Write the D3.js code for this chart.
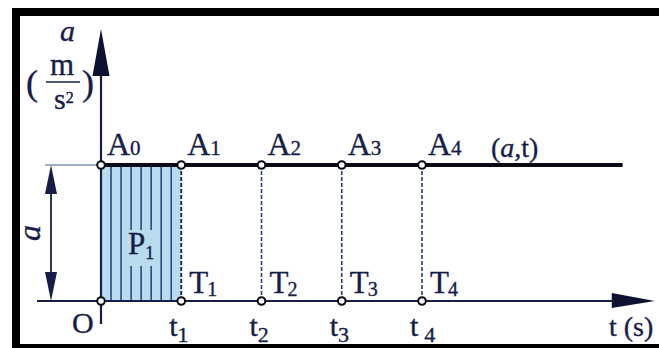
<!DOCTYPE html>
<html>
<head>
<meta charset="utf-8">
<script src="https://cdn.jsdelivr.net/npm/d3@7"></script>
<style>
  html, body { margin: 0; padding: 0; background: #fff; }
  svg { display: block; }
  text { font-family: "Liberation Serif", "DejaVu Serif", serif; fill: #161d48; stroke: #161d48; stroke-width: 0.35px; }
</style>
</head>
<body>
<svg id="chart" width="659" height="348"></svg>
<script>
// Constant acceleration a over time: a horizontal (a,t) line
const accel = 1;                      // a, in m/s²
const times = [0, 1, 2, 3, 4];        // t0 … t4
const pointLetters = ["A", "A", "A", "A", "A"];
const pointSubs = ["0", "1", "2", "3", "4"];
const footLetters = ["T", "T", "T", "T"];
const footSubs = ["1", "2", "3", "4"];
const tickLetters = ["t", "t", "t", "t"];
const tickSubs = ["1", "2", "3", "4"];
const lineEndT = 6.5;                 // where the (a,t) line stops
const axisEndT = 6.9;                 // tip of the time axis
const axisTopA = 2.0;                 // tip of the acceleration axis

const ink = "#161d48";
const svg = d3.select("#chart");

const x = d3.scaleLinear().domain([0, 4]).range([101, 422]);
const y = d3.scaleLinear().domain([0, 1]).range([301, 165]);

// frame
svg.append("rect").attr("x", 12).attr("y", 8).attr("width", 659).attr("height", 8).attr("fill", "#000");
svg.append("rect").attr("x", 12).attr("y", 8).attr("width", 8).attr("height", 340).attr("fill", "#000");
svg.append("rect").attr("x", 12).attr("y", 344).attr("width", 659).attr("height", 4).attr("fill", "#000");

// shaded area P1 under the line between t0 and t1
const fill = "#b9dbee";
svg.append("rect")
  .attr("x", x(times[0])).attr("y", y(accel))
  .attr("width", x(times[1]) - x(times[0]))
  .attr("height", y(0) - y(accel))
  .attr("fill", fill);
const hatch = d3.range(1, 8).map(i => times[0] + i * (times[1] - times[0]) / 8);
svg.append("g").selectAll("line").data(hatch).join("line")
  .attr("x1", d => x(d)).attr("x2", d => x(d))
  .attr("y1", y(accel)).attr("y2", y(0))
  .attr("stroke", "#1f3f78").attr("stroke-width", 1.5);
// gap in the hatching behind the P1 label
svg.append("rect").attr("x", 127).attr("y", 230).attr("width", 30).attr("height", 36).attr("fill", fill);
svg.append("line")
  .attr("x1", x(times[1])).attr("x2", x(times[1]))
  .attr("y1", y(accel)).attr("y2", y(0))
  .attr("stroke", ink).attr("stroke-width", 1.8).attr("stroke-dasharray", "4,2");

// dashed drops from A2..A4 to T2..T4
svg.append("g").selectAll("line").data(times.slice(2)).join("line")
  .attr("x1", d => x(d)).attr("x2", d => x(d))
  .attr("y1", y(accel)).attr("y2", y(0))
  .attr("stroke", "#22427c").attr("stroke-width", 1.6).attr("stroke-dasharray", "4,2");

// level guide at a, and the double arrow measuring a
svg.append("line").attr("x1", 45).attr("x2", x(0)).attr("y1", y(accel)).attr("y2", y(accel))
  .attr("stroke", "#3b5a93").attr("stroke-width", 1);
const ax = 51;
svg.append("line").attr("x1", ax).attr("x2", ax).attr("y1", y(accel) + 10).attr("y2", y(0) - 10)
  .attr("stroke", ink).attr("stroke-width", 1.8);
svg.append("path")
  .attr("d", `M${ax},${y(accel)} L${ax - 6},${y(accel) + 29} L${ax + 6},${y(accel) + 29} Z`)
  .attr("fill", ink);
svg.append("path")
  .attr("d", `M${ax},${y(0)} L${ax - 6},${y(0) - 29} L${ax + 6},${y(0) - 29} Z`)
  .attr("fill", ink);
svg.append("text").attr("transform", `translate(40,${(y(0) + y(accel)) / 2}) rotate(-90)`)
  .attr("text-anchor", "middle").attr("font-size", 32).attr("font-style", "italic").text("a");

// time axis
svg.append("line").attr("x1", 37).attr("x2", x(axisEndT) - 30).attr("y1", y(0)).attr("y2", y(0))
  .attr("stroke", ink).attr("stroke-width", 2.2);
svg.append("path")
  .attr("d", `M${x(axisEndT)},${y(0)} L${x(axisEndT) - 43},${y(0) - 8} L${x(axisEndT) - 43},${y(0) + 7} Z`)
  .attr("fill", "#0d1230");

// acceleration axis
svg.append("line").attr("x1", x(0)).attr("x2", x(0)).attr("y1", 324).attr("y2", y(axisTopA) + 30)
  .attr("stroke", ink).attr("stroke-width", 2.2);
svg.append("path")
  .attr("d", `M${x(0)},${y(axisTopA)} L${x(0) - 8.5},${y(axisTopA) + 47} L${x(0) + 8.5},${y(axisTopA) + 47} Z`)
  .attr("fill", "#0d1230");

// the (a,t) line
svg.append("line").attr("x1", x(0)).attr("x2", x(lineEndT)).attr("y1", y(accel)).attr("y2", y(accel))
  .attr("stroke", "#0a0a14").attr("stroke-width", 4);

// open circles at A0..A4 and O, T1..T4
const circles = times.flatMap(t => [{ t, a: accel }, { t, a: 0 }]);
svg.append("g").selectAll("circle").data(circles).join("circle")
  .attr("cx", d => x(d.t)).attr("cy", d => y(d.a)).attr("r", 3.8)
  .attr("fill", "#fff").attr("stroke", "#0a0a14").attr("stroke-width", 2);

// labels with subscripts
function subLabel(g, px, py, main, sub, size, subSize, subDx, subDy) {
  const t = g.append("text").attr("x", px).attr("y", py).attr("font-size", size);
  t.append("tspan").text(main);
  t.append("tspan").attr("font-size", subSize).attr("dx", subDx).attr("dy", subDy).text(sub);
  return t;
}
const lbl = svg.append("g");
times.forEach((t, i) => subLabel(lbl, x(t) + 6, 155, pointLetters[i], pointSubs[i], 32, 21, 0, 0));
times.slice(1).forEach((t, i) => subLabel(lbl, x(t) + 8, 293, footLetters[i], footSubs[i], 31, 20, -1, 3));
times.slice(1).forEach((t, i) => subLabel(lbl, x(t) - 12, 336, tickLetters[i], tickSubs[i], 30, 22, i === 3 ? 6 : 0, 6));
subLabel(lbl, 128, 254, "P", "1", 31, 18, 0, 5);
lbl.append("text").attr("x", 72).attr("y", 333).attr("font-size", 30).text("O");

// (a,t) tag
const tag = lbl.append("text").attr("x", 491).attr("y", 157).attr("font-size", 28);
tag.append("tspan").text("(");
tag.append("tspan").attr("font-style", "italic").text("a");
tag.append("tspan").text(",t)");

// axis titles: a over the unit fraction m/s²
lbl.append("text").attr("x", 60).attr("y", 41).attr("font-size", 30).attr("font-style", "italic").text("a");
lbl.append("text").attr("x", 26).attr("y", 95).attr("font-size", 36).text("(");
lbl.append("text").attr("x", 82).attr("y", 95).attr("font-size", 36).text(")");
lbl.append("text").attr("x", 50).attr("y", 75).attr("font-size", 31).text("m");
svg.append("line").attr("x1", 46).attr("x2", 80).attr("y1", 82).attr("y2", 82)
  .attr("stroke", ink).attr("stroke-width", 1.6);
const s2 = lbl.append("text").attr("x", 54).attr("y", 109).attr("font-size", 30);
s2.append("tspan").text("s");
s2.append("tspan").attr("font-size", 16).attr("dy", -6).text("2");
lbl.append("text").attr("x", 609).attr("y", 336).attr("font-size", 28).text("t (s)");
</script>
</body>
</html>
